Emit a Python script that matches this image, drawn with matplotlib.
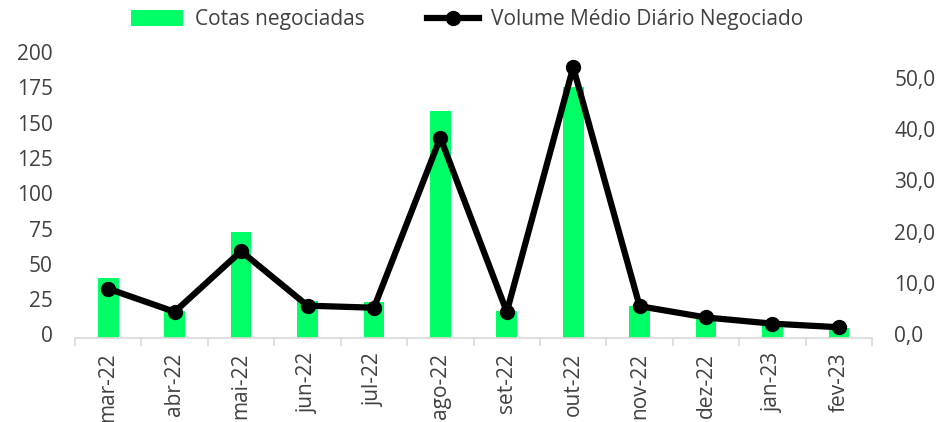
import matplotlib

matplotlib.use("Agg")
import matplotlib.pyplot as plt
from matplotlib.ticker import FuncFormatter, FixedLocator
from matplotlib.transforms import ScaledTranslation
import numpy as np

plt.rcParams.update({
    "font.family": ["Open Sans", "DejaVu Sans"],
})

_INK = "#404040"
_GREEN = "#00FF66"
_FS = 15

months = ["mar-22", "abr-22", "mai-22", "jun-22", "jul-22", "ago-22",
          "set-22", "out-22", "nov-22", "dez-22", "jan-23", "fev-23"]
cotas = [42, 19, 75, 26, 25, 160, 19, 177, 22, 13, 10, 7]
volume = [9.5, 5.0, 16.8, 6.2, 5.8, 38.9, 5.0, 52.6, 6.1, 3.9, 2.7, 2.0]

left_ticks = [0, 25, 50, 75, 100, 125, 150, 175, 200]
right_ticks = [0, 10, 20, 30, 40, 50]


def main():
    fig = plt.figure(figsize=(9.4, 4.22), dpi=100)
    ax = fig.add_axes([0.0798, 0.2002, 0.848, 0.6695])
    x = np.arange(len(months))

    bars = ax.bar(x, cotas, width=0.31, color=_GREEN, label="Cotas negociadas", zorder=2)
    ax.set_xlim(-0.5, len(months) - 0.5)
    ax.set_ylim(0, 200)
    ax.set_yticks(left_ticks)

    ax2 = ax.twinx()
    line, = ax2.plot(x, volume, color="black", lw=4.5, marker="o", ms=10,
                     label="Volume Médio Diário Negociado", zorder=3)
    ax2.set_ylim(0, 55)
    ax2.set_yticks(right_ticks)
    ax2.yaxis.set_major_formatter(FuncFormatter(lambda v, _: f"{v:.1f}".replace(".", ",")))

    # nudge y labels up a little, like the Excel original
    up = ScaledTranslation(0, 2.2 / 72, fig.dpi_scale_trans)
    for a in (ax, ax2):
        for s in a.spines.values():
            s.set_visible(False)
        a.tick_params(axis="y", length=0, labelsize=_FS, labelcolor=_INK, pad=16)
        for lab in a.get_yticklabels():
            lab.set_transform(lab.get_transform() + up)
    ax.spines["bottom"].set_visible(True)
    ax.spines["bottom"].set_color("#d9d9d9")
    ax.spines["bottom"].set_linewidth(1.2)

    ax.set_xticks(x)
    ax.set_xticklabels(months, rotation=90, fontsize=_FS, color=_INK)
    ax.tick_params(axis="x", which="major", length=0, pad=11)
    ax.xaxis.set_minor_locator(FixedLocator(np.arange(-0.5, len(months), 1.0)))
    ax.tick_params(axis="x", which="minor", length=6, width=1.2, color="#d9d9d9")

    fig.legend([bars, line], [bars.get_label(), line.get_label()],
               loc="center", bbox_to_anchor=(0.497, 0.953), ncol=2, frameon=False,
               fontsize=_FS, labelcolor=_INK, handlelength=2.5, handleheight=0.75,
               handletextpad=0.55, columnspacing=3.0)

    fig.savefig("out.png", dpi=100)
    plt.close(fig)


if __name__ == "__main__":
    main()
